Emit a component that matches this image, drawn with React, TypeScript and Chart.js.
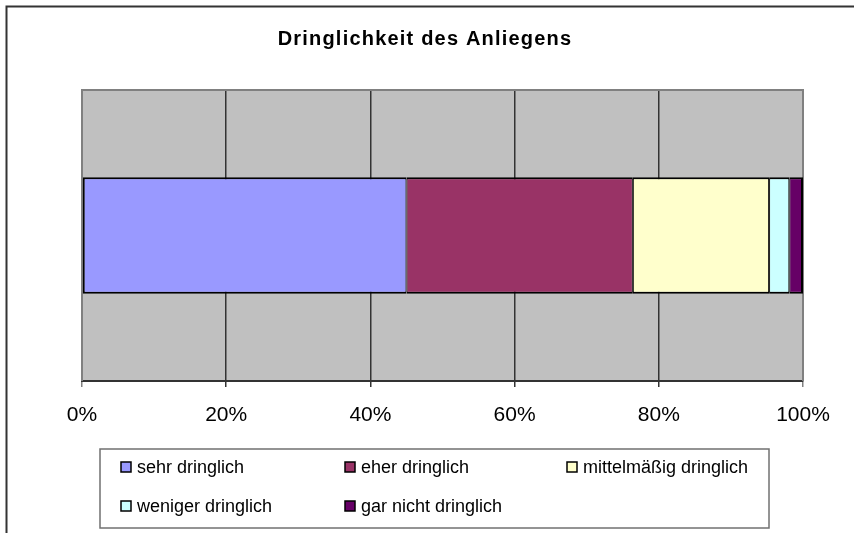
import React, { useEffect, useRef } from 'react';
import { Chart, registerables } from 'chart.js';

Chart.register(...registerables);

const chartTitle = 'Dringlichkeit des Anliegens';
const categories = ['Dringlichkeit'];
const seriesLabels = ['sehr dringlich', 'eher dringlich', 'mittelmäßig dringlich', 'weniger dringlich', 'gar nicht dringlich'];
const sehrDringlich = [45.0];
const eherDringlich = [31.4];
const mittelDringlich = [18.9];
const wenigerDringlich = [2.8];
const garNichtDringlich = [1.9];
const seriesColors = ['#9999FF', '#993366', '#FFFFCC', '#CCFFFF', '#660066'];
const tickStep = 20;

const FONT = '"Liberation Sans", Arial, sans-serif';

export default function App() {
  const ref = useRef<HTMLCanvasElement | null>(null);

  useEffect(() => {
    if (!ref.current) return;
    const values = [sehrDringlich, eherDringlich, mittelDringlich, wenigerDringlich, garNichtDringlich];
    const n = values.length;

    const decor = {
      id: 'decor',
      beforeDraw(chart: any) {
        const { ctx, chartArea: a } = chart;
        ctx.save();
        ctx.fillStyle = '#ffffff';
        ctx.fillRect(0, 0, chart.width, chart.height);
        ctx.fillStyle = '#C0C0C0';
        ctx.fillRect(a.left, a.top, a.right - a.left, a.bottom - a.top);
        // outer frame
        ctx.strokeStyle = '#333333';
        ctx.lineWidth = 2;
        ctx.strokeRect(6.5, 6.5, 1000, 1000);
        ctx.restore();
      },
      beforeDatasetsDraw(chart: any) {
        const { ctx, chartArea: a } = chart;
        ctx.save();
        ctx.strokeStyle = '#808080';
        ctx.lineWidth = 2;
        ctx.beginPath();
        ctx.moveTo(a.left, a.bottom);
        ctx.lineTo(a.left, a.top);
        ctx.lineTo(a.right, a.top);
        ctx.lineTo(a.right, a.bottom);
        ctx.stroke();
        ctx.restore();
      },
      afterDraw(chart: any) {
        const { ctx } = chart;
        ctx.save();
        // title
        ctx.fillStyle = '#000';
        ctx.font = `bold 20px ${FONT}`;
        (ctx as any).letterSpacing = '1.2px';
        ctx.textAlign = 'center';
        ctx.textBaseline = 'middle';
        ctx.fillText(chartTitle, 425, 39);
        (ctx as any).letterSpacing = '0px';
        // legend
        ctx.strokeStyle = '#707070';
        ctx.lineWidth = 1.5;
        ctx.strokeRect(100, 449, 669, 79);
        ctx.font = `18px ${FONT}`;
        ctx.textAlign = 'left';
        const colX = [121, 345, 567];
        const rowY = [467, 506];
        chart.data.datasets.forEach((ds: any, i: number) => {
          const x = colX[i % 3];
          const y = rowY[Math.floor(i / 3)];
          ctx.fillStyle = ds.backgroundColor;
          ctx.fillRect(x, y - 5, 10, 10);
          ctx.strokeStyle = '#000';
          ctx.lineWidth = 1.5;
          ctx.strokeRect(x, y - 5, 10, 10);
          ctx.fillStyle = '#000';
          ctx.fillText(ds.label, x + 16, y + 1);
        });
        ctx.restore();
      },
    };

    const chart = new Chart(ref.current, {
      type: 'bar',
      data: {
        labels: categories,
        datasets: values.map((v, i) => ({
          label: seriesLabels[i],
          data: v,
          backgroundColor: seriesColors[i],
          borderColor: '#000000',
          borderWidth: {
            top: 2,
            bottom: 2,
            left: i === 0 ? 2 : 1,
            right: i === n - 1 ? 2 : 1,
          },
          borderSkipped: false,
          barPercentage: 0.4,
          categoryPercentage: 1,
        })),
      },
      options: {
        indexAxis: 'y',
        responsive: false,
        animation: false,
        devicePixelRatio: 1,
        layout: { padding: { left: 82, right: 51, top: 90, bottom: 112 } },
        plugins: {
          legend: { display: false },
          title: { display: false },
          tooltip: { enabled: false },
        },
        scales: {
          x: {
            stacked: true,
            min: 0,
            max: 100,
            afterFit(scale: any) {
              scale.height = 40;
            },
            ticks: {
              stepSize: tickStep,
              callback: (v: any) => `${v}%`,
              color: '#000',
              font: { family: FONT, size: 21 },
              padding: 16,
              maxRotation: 0,
            },
            grid: {
              color: (c: any) => (c.tick && (c.tick.value === 0 || c.tick.value === 100) ? '#808080' : '#333333'),
              lineWidth: 1.5,
              tickLength: 6,
              drawTicks: true,
            },
            border: { display: true, color: '#333333', width: 2 },
          },
          y: {
            stacked: true,
            display: false,
          },
        },
      },
      plugins: [decor],
    });
    return () => chart.destroy();
  }, []);

  return (
    <div style={{ position: 'absolute', left: 0, top: 0, width: 854, height: 533 }}>
      <canvas ref={ref} width={854} height={533} style={{ display: 'block', width: 854, height: 533 }} />
    </div>
  );
}
